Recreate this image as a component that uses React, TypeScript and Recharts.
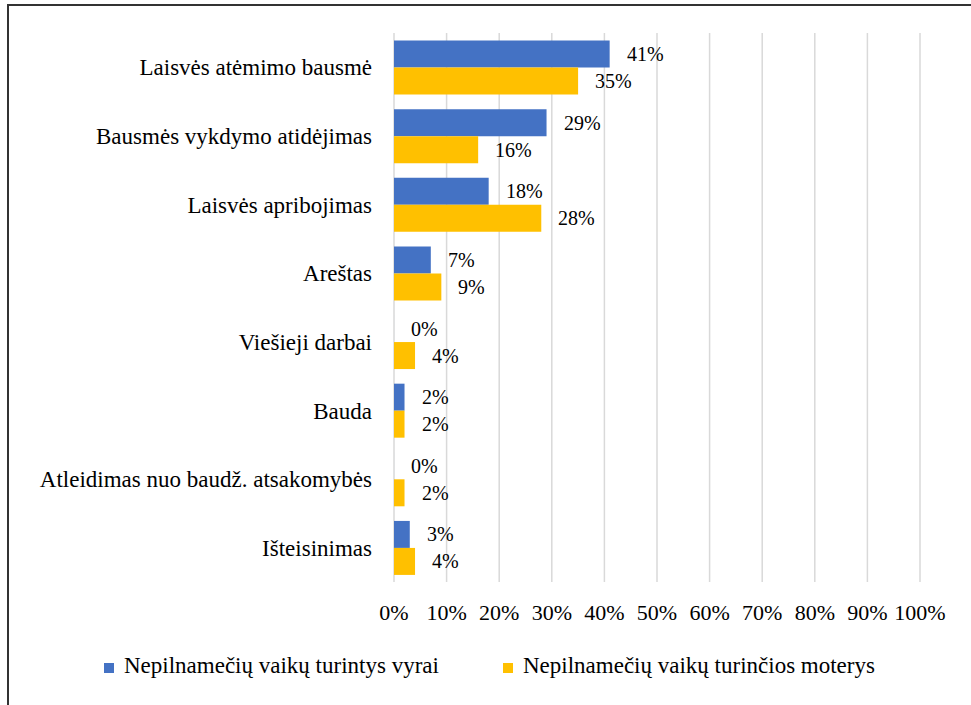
import React from 'react';
import { BarChart, Bar, XAxis, YAxis, CartesianGrid, LabelList } from 'recharts';

// Categories and shares (%)
const categories = [
  'Laisvės atėmimo bausmė',
  'Bausmės vykdymo atidėjimas',
  'Laisvės apribojimas',
  'Areštas',
  'Viešieji darbai',
  'Bauda',
  'Atleidimas nuo baudž. atsakomybės',
  'Išteisinimas'
];
const men = [41, 29, 18, 7, 0, 2, 0, 3];
const women = [35, 16, 28, 9, 4, 2, 2, 4];
const xTicks = [0, 10, 20, 30, 40, 50, 60, 70, 80, 90, 100];

const SERIES = [
  { key: 'men', name: 'Nepilnamečių vaikų turintys vyrai', color: '#4472C4' },
  { key: 'women', name: 'Nepilnamečių vaikų turinčios moterys', color: '#FFC000' }
];

const FONT = 'Liberation Serif';

const data = categories.map((name, i) => ({ name, men: men[i], women: women[i] }));

// value label to the right of each bar, also drawn for zero-length bars
const renderValue = (props: any) => {
  const { x, y, width, height, value } = props;
  if (value === undefined || value === null) return null;
  return (
    <text
      x={Number(x) + Math.round(Number(width || 0)) + 17}
      y={Number(y) + Number(height) / 2}
      dy="0.35em"
      fill="#000"
      fontSize={20}
      style={{ fontFamily: FONT }}
    >
      {`${value}%`}
    </text>
  );
};

const App: React.FC = () => (
  <div style={{ position: 'absolute', left: 0, top: 0, width: 971, height: 705, background: '#fff', fontFamily: FONT }}>
    {/* chart frame: only top and left edges fall inside the picture */}
    <div
      style={{
        position: 'absolute',
        left: 7,
        top: 4,
        width: 962,
        height: 699,
        borderTop: '2px solid #333',
        borderLeft: '2px solid #333'
      }}
    />
    <div style={{ position: 'absolute', left: 0, top: 0 }}>
      <BarChart
        width={971}
        height={705}
        data={data}
        layout="vertical"
        barGap={0}
        barCategoryGap="11%"
        margin={{ top: 33, right: 51, left: 0, bottom: 83 }}
        style={{ fontFamily: FONT }}
      >
        <CartesianGrid horizontal={false} stroke="#D9D9D9" strokeWidth={1.5} />
        <XAxis
          type="number"
          domain={[0, 100]}
          ticks={xTicks}
          tickFormatter={(v: number) => `${v}%`}
          axisLine={false}
          tickLine={false}
          tickSize={0}
          tickMargin={22}
          height={40}
          interval={0}
          tick={{ fill: '#000', fontSize: 22 }}
        />
        <YAxis
          type="category"
          dataKey="name"
          width={394}
          axisLine={false}
          tickLine={false}
          tickSize={0}
          tickMargin={22}
          interval={0}
          tick={{ fill: '#000', fontSize: 23 }}
        />
        {SERIES.map(s => (
          <Bar
            key={s.key}
            dataKey={s.key}
            name={s.name}
            fill={s.color}
            minPointSize={0.01}
            isAnimationActive={false}
          >
            <LabelList dataKey={s.key} content={renderValue} />
          </Bar>
        ))}
      </BarChart>
    </div>
    {/* legend */}
    {SERIES.map((s, i) => (
      <div
        key={s.key}
        style={{
          position: 'absolute',
          left: i === 0 ? 104 : 503,
          top: 653,
          display: 'flex',
          alignItems: 'center',
          fontSize: 23,
          color: '#000',
          whiteSpace: 'nowrap'
        }}
      >
        <span style={{ display: 'inline-block', width: 10, height: 10, background: s.color, marginRight: 10, marginTop: 4 }} />
        {s.name}
      </div>
    ))}
  </div>
);

export default App;
